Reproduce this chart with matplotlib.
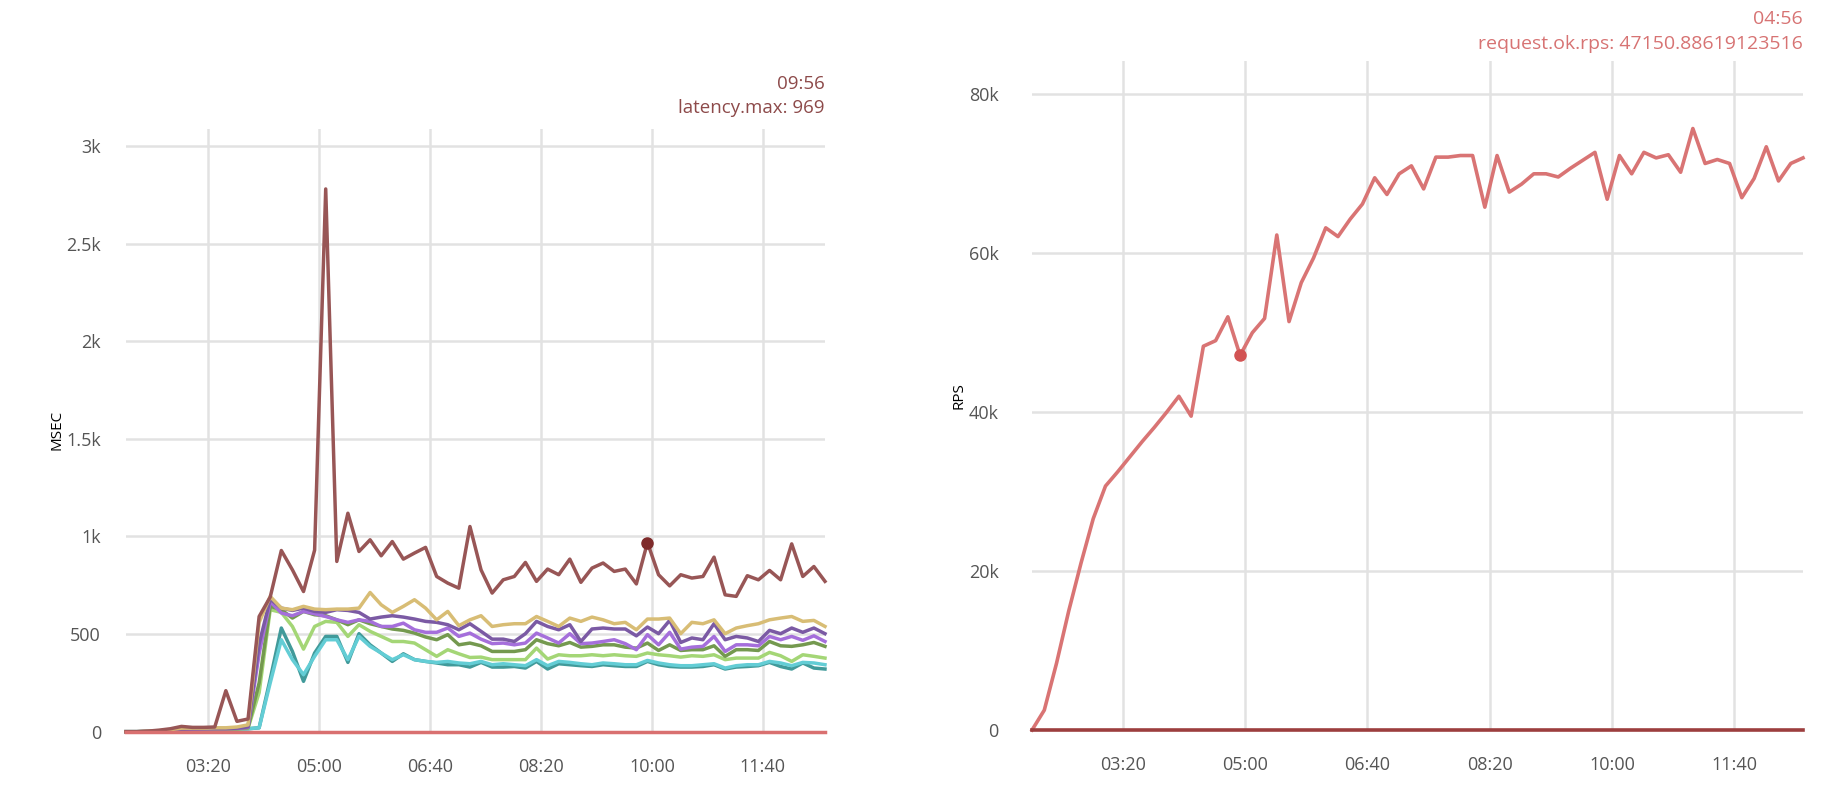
import numpy as np
import matplotlib
matplotlib.use("Agg")
import matplotlib.pyplot as plt
from matplotlib.ticker import FuncFormatter, FixedLocator

plt.rcParams['font.family'] = ['Open Sans', 'DejaVu Sans']

# sample times in seconds (one point every 10 s)
t = np.arange(126, 757, 10)

# latency panel (msec)
lat_max = [0, 0, 3, 8, 15, 27, 22, 22, 24, 210, 53, 65, 590, 690, 928, 829,
           718, 930, 2780, 872, 1119, 923, 983, 901, 974, 884, 915, 944, 795, 761, 735, 1051,
           829, 710, 778, 795, 867, 770, 833, 804, 884, 765, 838, 864, 821, 833, 757, 969,
           804, 747, 804, 787, 795, 894, 701, 693, 799, 778, 826, 778, 962, 795, 846, 770]
lat_yellow = [0, 0, 2, 5, 10, 18, 18, 18, 20, 20, 24, 35, 560, 693, 633, 625,
              642, 628, 625, 628, 628, 633, 713, 650, 611, 642, 676, 633, 573, 616, 543, 573,
              594, 539, 548, 553, 553, 590, 565, 539, 582, 565, 587, 573, 553, 560, 522, 577,
              577, 582, 502, 560, 553, 573, 502, 531, 543, 553, 573, 582, 590, 565, 570, 539]
lat_purple = [0, 0, 1, 3, 6, 12, 14, 15, 16, 16, 18, 25, 450, 679, 633, 621,
              633, 616, 611, 625, 621, 611, 577, 587, 594, 587, 577, 565, 560, 548, 522, 553,
              514, 474, 474, 462, 502, 565, 539, 522, 548, 462, 526, 531, 526, 526, 491, 536,
              502, 570, 457, 480, 471, 553, 471, 488, 480, 462, 519, 502, 531, 509, 531, 502]
lat_violet = [0, 0, 1, 3, 6, 11, 13, 14, 15, 15, 17, 22, 400, 667, 608, 594,
              616, 604, 590, 573, 560, 573, 565, 539, 539, 556, 522, 509, 509, 531, 488, 505,
              474, 451, 454, 445, 454, 505, 480, 454, 502, 451, 454, 462, 471, 451, 420, 497,
              445, 509, 423, 433, 437, 488, 411, 445, 445, 440, 488, 471, 488, 468, 491, 462]
lat_green = [0, 0, 1, 2, 5, 10, 12, 13, 14, 14, 15, 20, 250, 642, 625, 582,
             616, 599, 594, 573, 548, 573, 553, 539, 526, 519, 505, 485, 471, 497, 445, 454,
             440, 411, 411, 411, 420, 471, 451, 440, 457, 433, 437, 445, 445, 433, 428, 454,
             416, 445, 416, 420, 420, 440, 386, 420, 420, 416, 462, 440, 437, 445, 457, 437]
lat_lime = [0, 0, 1, 2, 4, 9, 11, 12, 13, 13, 14, 18, 200, 625, 611, 539,
            423, 539, 565, 560, 488, 548, 514, 488, 462, 462, 454, 420, 386, 420, 399, 380,
            382, 369, 369, 369, 369, 428, 372, 394, 389, 389, 394, 389, 394, 389, 386, 403,
            394, 389, 382, 389, 386, 394, 369, 377, 377, 377, 406, 389, 360, 394, 386, 377]
lat_cyan = [0, 0, 1, 2, 4, 8, 10, 11, 12, 12, 13, 15, 20, 250, 471, 369,
            292, 386, 471, 471, 369, 488, 437, 403, 369, 394, 369, 360, 355, 360, 352, 348,
            360, 343, 348, 343, 338, 369, 338, 360, 355, 348, 343, 352, 348, 343, 343, 365,
            352, 343, 338, 338, 343, 348, 326, 338, 343, 343, 360, 352, 338, 355, 352, 343]
lat_teal = [0, 0, 1, 2, 4, 8, 10, 11, 12, 12, 13, 15, 20, 270, 531, 411,
            258, 403, 488, 488, 355, 502, 445, 403, 360, 399, 369, 360, 352, 343, 343, 331,
            355, 331, 331, 334, 326, 360, 321, 348, 343, 338, 334, 343, 338, 334, 334, 360,
            343, 334, 331, 331, 334, 343, 321, 331, 334, 338, 355, 334, 321, 352, 326, 321]
lat_min = [0] * 64

# throughput panel (requests per second)
rps_ok = [0, 2500, 8400, 15000, 21000, 26600, 30700, 32500, 34400, 36300, 38100, 40000,
          42000, 39500, 48300, 49000, 52000, 47150.88619123516, 50000, 51800, 62300, 51400,
          56300, 59400, 63200, 62100, 64300, 66200, 69500, 67400, 70000, 71000,
          68100, 72100, 72100, 72300, 72300, 65800, 72300, 67700, 68700, 70000, 70000,
          69600, 70700, 71700, 72700, 66800, 72300, 70000, 72700, 72000, 72400, 70200,
          75700, 71300, 71800, 71300, 67000, 69400, 73400, 69100, 71300, 72000]
rps_err = [0] * 64

x_ticks = [200, 300, 400, 500, 600, 700]

left_series = [
    (lat_teal, '#419a9a'),
    (lat_cyan, '#63cdd5'),
    (lat_lime, '#a4d676'),
    (lat_green, '#74994f'),
    (lat_violet, '#a56fdb'),
    (lat_purple, '#7b5aa4'),
    (lat_yellow, '#d8bd75'),
    (lat_max, '#985656'),
    (lat_min, '#d97070'),
]


def mmss(v, pos):
    v = int(round(v))
    return "%02d:%02d" % (v // 60, v % 60)


def style_axis(ax):
    for s in ax.spines.values():
        s.set_visible(False)
    ax.grid(True, color='#e2e2e2', linewidth=1.8)
    ax.set_axisbelow(True)
    ax.tick_params(length=0, labelsize=13, colors='#555555')
    ax.xaxis.set_major_locator(FixedLocator(x_ticks))
    ax.xaxis.set_major_formatter(FuncFormatter(mmss))
    ax.set_xlim(t[0], t[-1])


def kfmt(v, pos):
    if v == 0:
        return "0"
    if v >= 1000:
        s = "%g" % (v / 1000)
        return s + "k"
    return "%d" % v


fig = plt.figure(figsize=(18.26, 7.96), dpi=100)

# left: latency
ax1 = fig.add_axes([0.0690, 0.0808, 0.3828, 0.7571])
style_axis(ax1)
for vals, col in left_series:
    ax1.plot(t, vals, color=col, linewidth=2.5, clip_on=False, solid_joinstyle='round')
ax1.plot(t[47], lat_max[47], 'o', color='#7f2b2b', markersize=8, clip_on=False)
ax1.set_ylim(0, 3087)
ax1.set_yticks([0, 500, 1000, 1500, 2000, 2500, 3000])
ax1.yaxis.set_major_formatter(FuncFormatter(kfmt))
ax1.tick_params(axis='y', pad=18)
ax1.tick_params(axis='x', pad=19)
ax1.set_ylabel("MSEC", fontsize=11, color='black')
ax1.yaxis.set_label_coords(-0.088, 0.5)
ax1.text(1.0, 1.075, "09:56", transform=ax1.transAxes, ha='right', va='center',
         fontsize=13.5, color='#8d4a4a')
ax1.text(1.0, 1.035, "latency.max: 969", transform=ax1.transAxes, ha='right', va='center',
         fontsize=13.5, color='#8d4a4a')

# right: rps
ax2 = fig.add_axes([0.5652, 0.0829, 0.4222, 0.8405])
style_axis(ax2)
ax2.plot(t, rps_ok, color='#d97474', linewidth=2.6, clip_on=False, solid_joinstyle='round')
ax2.plot(t, rps_err, color='#9c3e3e', linewidth=2.6, clip_on=False)
ax2.plot(t[17], rps_ok[17], 'o', color='#d25353', markersize=8, clip_on=False)
ax2.set_ylim(0, 84200)
ax2.set_yticks([0, 20000, 40000, 60000, 80000])
ax2.yaxis.set_major_formatter(FuncFormatter(kfmt))
ax2.tick_params(axis='y', pad=24)
ax2.tick_params(axis='x', pad=19)
ax2.set_ylabel("RPS", fontsize=11, color='black')
ax2.yaxis.set_label_coords(-0.085, 0.5)
ax2.text(1.0, 1.063, "04:56", transform=ax2.transAxes, ha='right', va='center',
         fontsize=14, color='#d77373')
ax2.text(1.0, 1.025, "request.ok.rps: 47150.88619123516", transform=ax2.transAxes,
         ha='right', va='center', fontsize=14, color='#d77373')

fig.savefig("out.png", dpi=100)
